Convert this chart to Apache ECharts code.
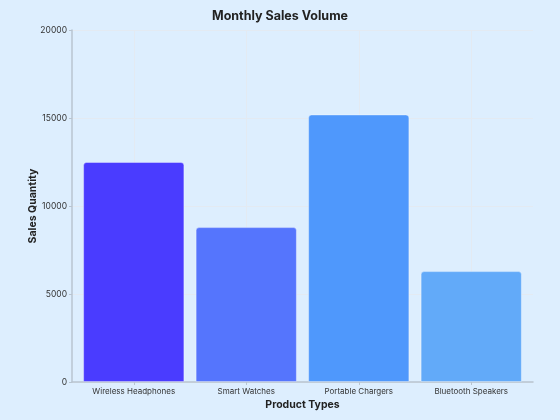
<!DOCTYPE html>
<html>
<head>
<meta charset="utf-8">
<script src="https://cdn.jsdelivr.net/npm/echarts@6/dist/echarts.min.js"></script>
<style>
html,body{margin:0;padding:0;background:#ddeefe;}
#c{width:560px;height:420px;}
</style>
</head>
<body>
<div id="c"></div>
<script>
const categories = ["Wireless Headphones", "Smart Watches", "Portable Chargers", "Bluetooth Speakers"];
const salesValues = [12500, 8800, 15200, 6300];
const barColors = ["#4a3cff", "#5575fd", "#4f98fc", "#62aaf9"];
const yTicks = {min: 0, max: 20000, interval: 5000};

const chart = echarts.init(document.getElementById('c'));
const font = 'Inter, "Noto Sans", sans-serif';
chart.setOption({
  backgroundColor: '#ddeefe',
  textStyle: {fontFamily: font},
  title: {
    text: 'Monthly Sales Volume',
    left: 'center', top: 5,
    textStyle: {fontSize: 12.5, fontWeight: 'bold', color: '#222', fontFamily: font}
  },
  grid: [
    {left: 77.5, right: 32.5, top: 30, bottom: 38},
    {left: 72, right: 27, top: 30, bottom: 38}
  ],
  xAxis: [
    {
      type: 'category', gridIndex: 0, data: categories,
      axisLine: {show: false},
      axisTick: {show: true, alignWithLabel: true, length: 3, lineStyle: {color: '#b8c4d0'}},
      axisLabel: {fontSize: 8, color: '#333', margin: 6, interval: 0},
      splitLine: {show: true, alignWithLabel: true, lineStyle: {color: '#e3eaf2', width: 1}},
      name: 'Product Types', nameLocation: 'middle', nameGap: 17,
      nameMoveOverlap: false,
      nameTextStyle: {fontSize: 10.5, fontWeight: 'bold', color: '#222'}
    },
    {
      type: 'value', gridIndex: 1, min: 0, max: 1,
      axisLine: {show: true, lineStyle: {color: '#b8c4d0', width: 1.5}},
      axisTick: {show: false}, axisLabel: {show: false}, splitLine: {show: false}
    }
  ],
  yAxis: [
    {type: 'value', gridIndex: 0, min: yTicks.min, max: yTicks.max, interval: yTicks.interval, show: false},
    {
      type: 'value', gridIndex: 1, min: yTicks.min, max: yTicks.max, interval: yTicks.interval,
      axisLine: {show: true, lineStyle: {color: '#b8c4d0', width: 1.5}},
      axisTick: {show: true, length: 3, lineStyle: {color: '#b8c4d0'}},
      axisLabel: {fontSize: 8.5, color: '#333', margin: 5, formatter: v => String(v)},
      splitLine: {show: true, lineStyle: {color: '#e3eaf2', width: 1}},
      name: 'Sales Quantity', nameLocation: 'middle', nameGap: 34,
      nameMoveOverlap: false,
      nameTextStyle: {fontSize: 10.5, fontWeight: 'bold', color: '#222'}
    }
  ],
  series: [{
    type: 'bar', xAxisIndex: 0, yAxisIndex: 0,
    barCategoryGap: '10%',
    data: salesValues.map((v, i) => ({
      value: v,
      itemStyle: {color: barColors[i], borderRadius: [3, 3, 0, 0], borderColor: 'rgba(255,255,255,0.35)', borderWidth: 1}
    }))
  }]
});
</script>
</body>
</html>
